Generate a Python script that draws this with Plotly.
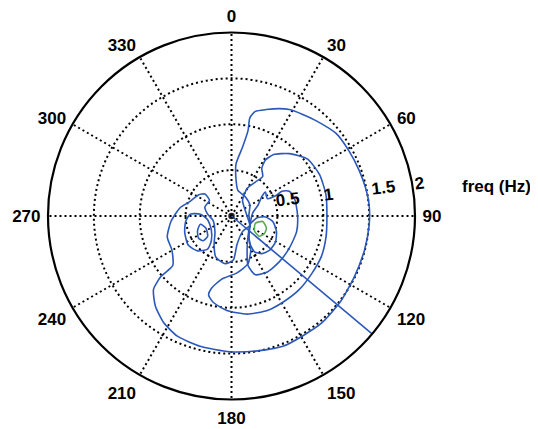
import numpy as np
import plotly.graph_objects as go

# Contour paths given as east (x) / north (y) frequency components in Hz
contour_a_x = [0.20, 0.19, 0.20, 0.15, 0.07, 0.05, 0.05, 0.12, 0.18, 0.20, 0.26, 0.38, 0.52, 0.63, 0.77, 0.92,
               1.14, 1.28, 1.39, 1.46, 1.50, 1.50, 1.45, 1.34, 1.19, 0.99, 0.77, 0.56, 0.28, -0.02, -0.34,
               -0.59, -0.74, -0.83, -0.85, -0.77, -0.64, -0.65, -0.70, -0.66, -0.56, -0.45, -0.36, -0.29,
               -0.24, -0.29, -0.26, -0.20, -0.18, -0.19, -0.17, -0.07, 0.02, 0.06, 0.12, 0.20]
contour_a_y = [-0.10, 0.01, 0.12, 0.21, 0.28, 0.39, 0.57, 0.75, 0.93, 1.07, 1.14, 1.16, 1.17, 1.16, 1.11, 1.04,
               0.90, 0.71, 0.50, 0.31, 0.12, -0.10, -0.37, -0.66, -0.93, -1.16, -1.31, -1.42, -1.47, -1.48,
               -1.42, -1.31, -1.16, -0.98, -0.80, -0.66, -0.54, -0.37, -0.23, -0.06, 0.09, 0.16, 0.23, 0.24,
               0.17, 0.10, 0.02, -0.05, -0.18, -0.31, -0.45, -0.52, -0.48, -0.31, -0.17, -0.10]

contour_b_x = [0.20, 0.16, 0.12, 0.17, 0.26, 0.34, 0.33, 0.37, 0.46, 0.63, 0.83, 0.96, 1.03, 1.04, 1.03, 0.98,
               0.88, 0.74, 0.56, 0.39, 0.17, -0.05, -0.20, -0.25, -0.22, -0.11, 0.06, 0.18, 0.21, 0.19, 0.20]
contour_b_y = [-0.10, 0.03, 0.17, 0.30, 0.37, 0.43, 0.52, 0.61, 0.67, 0.68, 0.62, 0.45, 0.23, 0.01, -0.23, -0.44,
               -0.62, -0.80, -0.94, -1.03, -1.07, -1.03, -0.94, -0.86, -0.79, -0.69, -0.62, -0.52, -0.37, -0.23, -0.10]

contour_c_x = [0.20, 0.23, 0.29, 0.33, 0.37, 0.39, 0.48, 0.55, 0.63, 0.69, 0.72, 0.71, 0.63, 0.52, 0.39, 0.26,
               0.18, 0.17, 0.18, 0.20]
contour_c_y = [-0.10, 0.03, 0.12, 0.21, 0.26, 0.19, 0.22, 0.27, 0.27, 0.18, 0.01, -0.17, -0.35, -0.50, -0.61,
               -0.64, -0.54, -0.37, -0.22, -0.10]

contour_d_x = [0.21, 0.28, 0.37, 0.45, 0.49, 0.48, 0.42, 0.33, 0.25, 0.20, 0.19, 0.21]
contour_d_y = [-0.08, -0.02, -0.01, -0.06, -0.17, -0.28, -0.37, -0.41, -0.39, -0.30, -0.18, -0.08]

peak_x = [0.26, 0.34, 0.38, 0.36, 0.30, 0.25, 0.26]
peak_y = [-0.08, -0.06, -0.13, -0.19, -0.22, -0.16, -0.08]

island_outer_x = [-0.45, -0.50, -0.51, -0.47, -0.37, -0.26, -0.22, -0.22, -0.26, -0.34, -0.45]
island_outer_y = [0.02, -0.06, -0.18, -0.32, -0.38, -0.36, -0.27, -0.15, -0.04, 0.02, 0.02]

island_inner_x = [-0.34, -0.37, -0.36, -0.31, -0.26, -0.28, -0.34]
island_inner_y = [-0.09, -0.16, -0.24, -0.27, -0.22, -0.13, -0.09]

# mean direction line (deg, clockwise from north) and its radial extent (Hz)
direction_theta = [130, 130]
direction_r = [0, 2]

angle_ticks = list(range(0, 360, 30))
angle_labels = [str(a) for a in angle_ticks]
radial_ticks = [0.5, 1, 1.5, 2]
radial_labels = ["0.5", "1", "1.5", "2"]

BLUE = "#2b58bb"
GREEN = "#5aaa55"
NBSP = "\u00a0"


def to_polar(x, y):
    x = np.asarray(x)
    y = np.asarray(y)
    r = np.hypot(x, y)
    th = np.degrees(np.arctan2(x, y)) % 360
    return r, th


fig = go.Figure()
for cx, cy, col in [
    (contour_a_x, contour_a_y, BLUE),
    (contour_b_x, contour_b_y, BLUE),
    (contour_c_x, contour_c_y, BLUE),
    (contour_d_x, contour_d_y, BLUE),
    (island_outer_x, island_outer_y, BLUE),
    (island_inner_x, island_inner_y, BLUE),
    (peak_x, peak_y, GREEN),
]:
    r, th = to_polar(cx, cy)
    fig.add_trace(go.Scatterpolar(r=r, theta=th, mode="lines",
                                  line=dict(color=col, width=1.6, shape="spline", smoothing=0.6),
                                  hoverinfo="skip", showlegend=False))

fig.add_trace(go.Scatterpolar(r=direction_r, theta=direction_theta, mode="lines",
                              line=dict(color=BLUE, width=1.6), showlegend=False, hoverinfo="skip"))
fig.add_trace(go.Scatterpolar(r=[0], theta=[0], mode="markers",
                              marker=dict(color="#222", size=5, symbol="circle-open", line=dict(width=1.5)),
                              showlegend=False, hoverinfo="skip"))

font_bold = dict(family="Liberation Sans, Arial, sans-serif", size=17, color="black", weight="bold")

# radial labels sit just to the right of their ring: pad the centred labels with blanks
label_pad = [5, 3, 7, 3]
radial_text = [NBSP * p + t for p, t in zip(label_pad, radial_labels)]

fig.update_layout(
    width=530, height=421,
    margin=dict(l=39.5, r=122.5, t=24, b=29),
    paper_bgcolor="white",
    polar=dict(
        bgcolor="white",
        domain=dict(x=[0, 1], y=[0, 1]),
        angularaxis=dict(
            rotation=90, direction="clockwise",
            tickmode="array", tickvals=angle_ticks, ticktext=angle_labels,
            showline=True, linecolor="black", linewidth=2.2,
            showgrid=True, gridcolor="black", griddash="2px,3px", gridwidth=1.6,
            ticks="outside", ticklen=3, tickcolor="rgba(0,0,0,0)",
            tickfont=font_bold,
        ),
        radialaxis=dict(
            range=[0, 2], tickmode="array", tickvals=radial_ticks, ticktext=radial_text,
            showline=False, angle=7, side="counterclockwise", ticks="",
            showgrid=True, gridcolor="black", griddash="2px,3px", gridwidth=1.6,
            tickfont=font_bold,
        ),
    ),
    annotations=[dict(text="freq (Hz)", xref="paper", yref="paper", x=1.222, y=0.579,
                      xanchor="center", yanchor="middle", showarrow=False, font=font_bold)],
)

fig.write_html("out.html")
